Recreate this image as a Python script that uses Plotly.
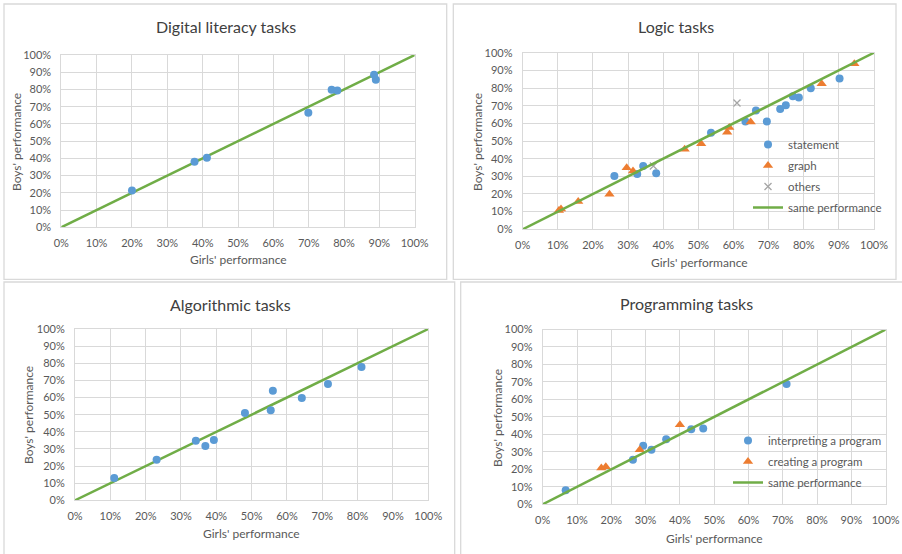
import plotly.graph_objects as go

# ---------------- data ----------------
same_perf = [0, 1]

digital_girls = [0.200, 0.377, 0.412, 0.699, 0.765, 0.781, 0.885, 0.890]
digital_boys = [0.213, 0.380, 0.404, 0.665, 0.798, 0.794, 0.886, 0.857]

logic_statement_girls = [0.261, 0.326, 0.343, 0.380, 0.536, 0.634, 0.664, 0.695, 0.733, 0.749, 0.769, 0.786, 0.820, 0.902]
logic_statement_boys = [0.302, 0.313, 0.358, 0.317, 0.547, 0.611, 0.673, 0.611, 0.681, 0.703, 0.754, 0.747, 0.798, 0.854]
logic_graph_girls = [0.103, 0.109, 0.158, 0.247, 0.296, 0.314, 0.461, 0.508, 0.582, 0.588, 0.649, 0.851, 0.944]
logic_graph_boys = [0.107, 0.115, 0.158, 0.198, 0.349, 0.330, 0.453, 0.485, 0.549, 0.577, 0.607, 0.824, 0.937]
logic_others_girls = [0.372, 0.610]
logic_others_boys = [0.358, 0.715]

algo_girls = [0.111, 0.231, 0.342, 0.369, 0.393, 0.481, 0.554, 0.560, 0.642, 0.716, 0.811]
algo_boys = [0.130, 0.237, 0.348, 0.317, 0.352, 0.510, 0.525, 0.640, 0.597, 0.679, 0.778]

prog_interp_girls = [0.067, 0.263, 0.293, 0.317, 0.360, 0.433, 0.468, 0.711]
prog_interp_boys = [0.080, 0.255, 0.335, 0.312, 0.372, 0.430, 0.433, 0.688]
prog_create_girls = [0.171, 0.184, 0.283, 0.400]
prog_create_boys = [0.208, 0.215, 0.312, 0.455]

tick_vals = [i / 10 for i in range(11)]
tick_text = [f"{i * 10}%" for i in range(11)]

titles = ["Digital literacy tasks", "Logic tasks", "Algorithmic tasks", "Programming tasks"]
x_title = "Girls' performance"
y_title = "Boys' performance"

# ---------------- style ----------------
W, H = 902, 554
FONT = "Lato, 'Open Sans', sans-serif"
GRAY = "#595959"
GRID = "#d9d9d9"
BLUE = "#5B9BD5"
ORANGE = "#ED7D31"
XGRAY = "#A5A5A5"
GREEN = "#70AD47"


def px(x):
    return x / W


def py(y):
    return 1 - y / H


# plot areas in pixels: (x0, x1, ytop, ybottom)
areas = [
    (61.3, 414.7, 55.0, 227.3),
    (522.7, 874.0, 52.7, 229.3),
    (75.0, 428.3, 329.0, 500.3),
    (542.7, 885.7, 329.5, 504.3),
]

fig = go.Figure()

marker_circle = dict(symbol="circle", size=8, color=BLUE)
marker_tri = dict(symbol="triangle-up", size=9, color=ORANGE)
marker_x = dict(symbol="x-thin", size=7, line=dict(color=XGRAY, width=1.3), color=XGRAY)
line_style = dict(color=GREEN, width=2.5)

# panel 1
fig.add_trace(go.Scatter(x=same_perf, y=same_perf, mode="lines", line=line_style,
                         showlegend=False, xaxis="x", yaxis="y", hoverinfo="skip"))
fig.add_trace(go.Scatter(x=digital_girls, y=digital_boys, mode="markers", marker=marker_circle,
                         showlegend=False, xaxis="x", yaxis="y"))

# panel 2
fig.add_trace(go.Scatter(x=logic_statement_girls, y=logic_statement_boys, mode="markers", marker=marker_circle,
                         name="statement", legend="legend", legendrank=1, legendgroup="l2a", xaxis="x2", yaxis="y2"))
fig.add_trace(go.Scatter(x=logic_graph_girls, y=logic_graph_boys, mode="markers", marker=marker_tri,
                         name="graph", legend="legend", legendrank=2, legendgroup="l2b", xaxis="x2", yaxis="y2"))
fig.add_trace(go.Scatter(x=logic_others_girls, y=logic_others_boys, mode="markers", marker=marker_x,
                         name="others", legend="legend", legendrank=3, legendgroup="l2c", xaxis="x2", yaxis="y2"))
fig.add_trace(go.Scatter(x=same_perf, y=same_perf, mode="lines", line=line_style, name="same performance",
                         legend="legend", legendrank=4, legendgroup="l2d", xaxis="x2", yaxis="y2"))

# panel 3
fig.add_trace(go.Scatter(x=same_perf, y=same_perf, mode="lines", line=line_style,
                         showlegend=False, xaxis="x3", yaxis="y3", hoverinfo="skip"))
fig.add_trace(go.Scatter(x=algo_girls, y=algo_boys, mode="markers", marker=marker_circle,
                         showlegend=False, xaxis="x3", yaxis="y3"))

# panel 4
fig.add_trace(go.Scatter(x=prog_interp_girls, y=prog_interp_boys, mode="markers", marker=marker_circle,
                         name="interpreting a program", legend="legend2", legendrank=1, legendgroup="l4a",
                         xaxis="x4", yaxis="y4"))
fig.add_trace(go.Scatter(x=prog_create_girls, y=prog_create_boys, mode="markers", marker=marker_tri,
                         name="creating a program", legend="legend2", legendrank=2, legendgroup="l4b",
                         xaxis="x4", yaxis="y4"))
fig.add_trace(go.Scatter(x=same_perf, y=same_perf, mode="lines", line=line_style, name="same performance",
                         legend="legend2", legendrank=3, legendgroup="l4c", xaxis="x4", yaxis="y4"))

layout = dict(
    width=W, height=H,
    margin=dict(l=0, r=0, t=0, b=0, autoexpand=False),
    paper_bgcolor="white", plot_bgcolor="white",
    font=dict(family=FONT, color=GRAY, size=11),
    shapes=[], annotations=[],
)

for i, (x0, x1, yt, yb) in enumerate(areas):
    n = "" if i == 0 else str(i + 1)
    common = dict(range=[0, 1], tickvals=tick_vals, ticktext=tick_text, showgrid=True, gridcolor=GRID,
                  gridwidth=1, zeroline=False, showline=True, mirror=True, linecolor=GRID, linewidth=1,
                  ticks="", tickfont=dict(family=FONT, size=11, color=GRAY), fixedrange=True)
    layout["xaxis" + n] = dict(common, domain=[px(x0), px(x1)], anchor="y" + n, ticklabelstandoff=5)
    layout["yaxis" + n] = dict(common, domain=[py(yb), py(yt)], anchor="x" + n, ticklabelstandoff=7)

# panel borders
borders = [(4, 446.7, 4, 279.3), (453.3, 896, 4, 279.3), (4, 454.7, 282, 600), (460.7, 920, 282, 600)]
for (bx0, bx1, by0, by1) in borders:
    layout["shapes"].append(dict(type="rect", xref="paper", yref="paper", x0=px(bx0), x1=px(bx1),
                                 y0=py(by1), y1=py(by0), line=dict(color=GRID, width=1.3),
                                 fillcolor="rgba(0,0,0,0)", layer="below"))

# titles and axis titles
title_pos = [(226, 26), (676, 26), (230, 304), (686, 303)]
xt_pos = [(238, 259), (699, 262), (251, 533), (714, 538)]
yt_pos = [(16, 142), (477, 142), (28, 415), (497, 418)]
for i in range(4):
    tx, ty = title_pos[i]
    layout["annotations"].append(dict(text=titles[i], x=px(tx), y=py(ty), xref="paper", yref="paper",
                                      showarrow=False, xanchor="center", yanchor="middle",
                                      font=dict(family=FONT, size=16, color="#404040")))
    ax, ay = xt_pos[i]
    layout["annotations"].append(dict(text=x_title, x=px(ax), y=py(ay), xref="paper", yref="paper",
                                      showarrow=False, xanchor="center", yanchor="middle",
                                      font=dict(family=FONT, size=12, color=GRAY)))
    bx, by = yt_pos[i]
    layout["annotations"].append(dict(text=y_title, x=px(bx), y=py(by), xref="paper", yref="paper",
                                      showarrow=False, xanchor="center", yanchor="middle", textangle=-90,
                                      font=dict(family=FONT, size=12, color=GRAY)))

leg_common = dict(bgcolor="rgba(0,0,0,0)", borderwidth=0, font=dict(family=FONT, size=11.5, color=GRAY),
                  xanchor="left", yanchor="top", tracegroupgap=2, traceorder="grouped")
layout["legend"] = dict(leg_common, x=px(748), y=py(130))
layout["legend2"] = dict(leg_common, x=px(728), y=py(426))

fig.update_layout(**layout)
fig.write_html("out.html", config={"displayModeBar": False},
               post_script="document.body.style.margin='0';document.body.style.overflow='hidden';")
